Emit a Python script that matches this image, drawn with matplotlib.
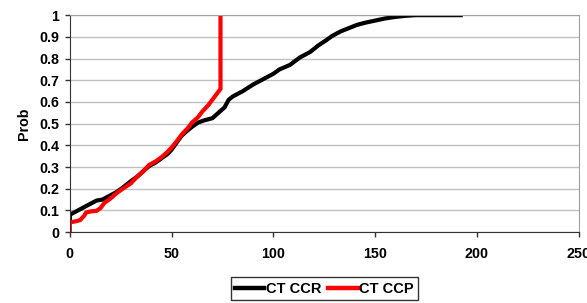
import matplotlib.pyplot as plt

plt.rcParams['font.family'] = ['Liberation Sans', 'DejaVu Sans']
plt.rcParams['font.weight'] = 'bold'

ccr_x = [0, 0, 3, 5, 8, 10, 13, 16, 20, 23, 26, 30, 33, 36, 39, 42, 45, 48, 50, 53, 55,
         58, 60, 63, 66, 70, 73, 76, 78, 80, 85, 90, 95, 100, 103, 108, 113, 118, 122,
         126, 129, 133, 137, 141, 145, 150, 155, 160, 165, 170, 180, 192]
ccr_y = [0.05, 0.08, 0.095, 0.105, 0.12, 0.13, 0.145, 0.15, 0.17, 0.185, 0.205, 0.235,
         0.255, 0.28, 0.305, 0.32, 0.34, 0.36, 0.38, 0.42, 0.445, 0.47, 0.485, 0.505,
         0.515, 0.525, 0.55, 0.575, 0.61, 0.625, 0.65, 0.68, 0.705, 0.73, 0.75, 0.77,
         0.805, 0.83, 0.86, 0.885, 0.905, 0.925, 0.94, 0.955, 0.965, 0.975, 0.985,
         0.992, 0.997, 1.0, 1.0, 1.0]

# CT CCP empirical CDF
ccp_x = [0, 0, 3, 5, 7, 8, 10, 13, 15, 17, 20, 23, 26, 30, 33, 36, 39, 42, 45, 48, 50,
         53, 55, 58, 60, 63, 65, 68, 70, 72, 74, 74]
ccp_y = [0.0, 0.045, 0.05, 0.055, 0.075, 0.09, 0.095, 0.098, 0.11, 0.135, 0.155, 0.18,
         0.20, 0.225, 0.255, 0.28, 0.31, 0.325, 0.345, 0.37, 0.39, 0.425, 0.45, 0.48,
         0.505, 0.53, 0.555, 0.585, 0.61, 0.635, 0.66, 1.0]

fig = plt.figure(figsize=(5.87, 3.03), dpi=100)
ax = fig.add_axes([0.119, 0.234, 0.867, 0.716])

ax.plot(ccr_x, ccr_y, color='black', lw=3, label='CT CCR', solid_joinstyle='miter')
ax.plot(ccp_x, ccp_y, color='#ff0000', lw=3, label='CT CCP', solid_joinstyle='miter')

ax.set_xlim(0, 250)
ax.set_ylim(0, 1)
ax.set_xticks([0, 50, 100, 150, 200, 250])
ax.set_yticks([i / 10 for i in range(11)])
ax.set_yticklabels(['0', '0.1', '0.2', '0.3', '0.4', '0.5', '0.6', '0.7', '0.8', '0.9', '1'])
ax.yaxis.grid(True, color='#c0c0c0', lw=1)
ax.set_axisbelow(True)
ax.tick_params(axis='both', labelsize=10.3, direction='out', length=3.5, width=1, color='#333333')
ax.tick_params(axis='x', pad=7)
ax.tick_params(axis='y', pad=4)
for s in ['top', 'right']:
    ax.spines[s].set_color('#a0a0a0')
for s in ['left', 'bottom']:
    ax.spines[s].set_color('#333333')
ax.set_ylabel('Prob', fontsize=10.3, fontweight='bold', labelpad=6)

leg = ax.legend(loc='upper center', bbox_to_anchor=(0.5, -0.175), ncol=2, frameon=True,
                fancybox=False, edgecolor='black', fontsize=10.5, handlelength=2.0,
                handletextpad=0.1, columnspacing=0.5, borderpad=0.3)
leg.get_frame().set_linewidth(1)
for line in leg.get_lines():
    line.set_linewidth(3.2)

fig.savefig('out.png', dpi=100)
